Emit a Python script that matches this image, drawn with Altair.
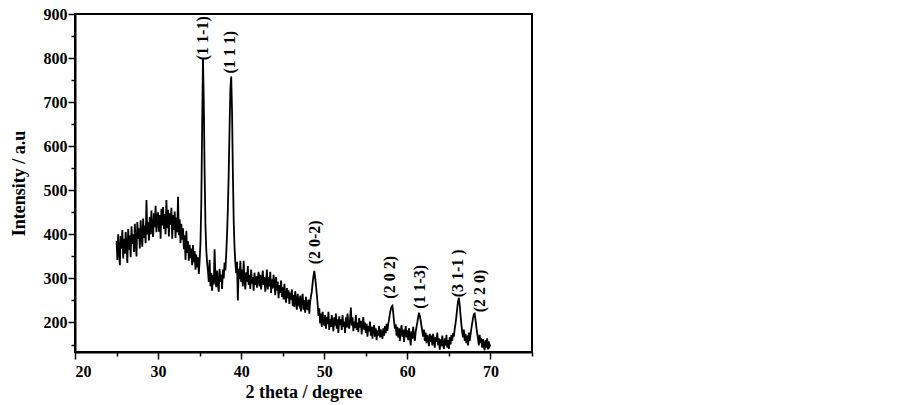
import altair as alt
import numpy as np
import pandas as pd

# 2-theta grid: 25.0 .. 70.0 step 0.1
x_start, x_step, n_pts = 25.0, 0.1, 451

intensity = [
    385, 342, 400, 362, 330, 396, 368, 410, 345, 390,   # 25
    356, 405, 372, 335, 412, 365, 398, 348, 418, 378,   # 26
    400, 360, 424, 382, 350, 428, 390, 414, 368, 432,   # 27
    398, 372, 436, 392, 420, 380, 478, 400, 428, 386,   # 28
    440, 400, 454, 410, 394, 448, 416, 465, 405, 438,   # 29
    450, 406, 444, 390, 458, 420, 462, 412, 446, 400,   # 30
    478, 414, 456, 395, 448, 422, 460, 390, 444, 410,   # 31
    452, 392, 438, 405, 485, 398, 434, 380, 424, 388,   # 32
    414, 366, 398, 342, 408, 358, 384, 340, 376, 346,   # 33
    368, 330, 376, 336, 362, 320, 354, 325, 348, 310,   # 34
    340, 380, 470, 640, 800, 700, 540, 420, 365, 335,   # 35
    318, 292, 342, 282, 312, 272, 308, 286, 366, 298,   # 36
    280, 318, 288, 270, 322, 292, 308, 276, 320, 300,   # 37
    336, 318, 356, 400, 460, 540, 640, 730, 758, 680,   # 38
    540, 430, 370, 335, 312, 338, 250, 322, 298, 340,   # 39
    292, 320, 282, 340, 298, 275, 314, 292, 328, 285,   # 40
    308, 276, 320, 288, 303, 272, 313, 285, 305, 279,   # 41
    300, 315, 282, 308, 275, 298, 318, 285, 303, 270,   # 42
    294, 320, 275, 303, 282, 315, 267, 298, 277, 308,   # 43
    290, 262, 303, 272, 293, 255, 285, 267, 295, 258,   # 44
    280, 252, 288, 258, 245, 278, 255, 273, 242, 268,   # 45
    252, 275, 238, 263, 235, 271, 247, 229, 265, 242,   # 46
    238, 261, 225, 253, 265, 229, 251, 222, 258, 235,   # 47
    228, 252, 220, 246, 260, 270, 290, 305, 317, 302,   # 48
    284, 264, 242, 215, 232, 198, 220, 190, 224, 203,   # 49
    193, 217, 186, 212, 196, 224, 183, 207, 190, 217,   # 50
    198, 180, 212, 193, 220, 186, 207, 176, 214, 194,   # 51
    207, 183, 217, 190, 202, 176, 212, 188, 220, 196,   # 52
    186, 207, 234, 193, 212, 180, 202, 188, 217, 183,   # 53
    200, 178, 210, 188, 204, 173, 197, 212, 183, 200,   # 54
    176, 197, 168, 192, 180, 202, 170, 190, 163, 187,   # 55
    194, 168, 187, 160, 182, 170, 192, 166, 184, 173,   # 56
    163, 187, 170, 192, 176, 197, 181, 197, 207, 220,   # 57
    230, 236, 238, 222, 202, 186, 196, 170, 190, 166,   # 58
    187, 158, 180, 194, 168, 184, 156, 177, 192, 166,   # 59
    182, 160, 187, 168, 148, 180, 163, 190, 170, 158,   # 60
    178, 190, 200, 212, 222, 215, 205, 192, 180, 168,   # 61
    184, 158, 177, 153, 172, 163, 146, 174, 156, 170,   # 62
    148, 174, 158, 143, 167, 156, 177, 148, 164, 138,   # 63
    162, 146, 170, 150, 140, 164, 148, 172, 143, 160,   # 64
    140, 167, 150, 172, 158, 176, 168, 186, 198, 214,   # 65
    232, 248, 256, 240, 216, 196, 178, 166, 184, 158,   # 66
    174, 153, 170, 148, 177, 158, 172, 186, 198, 210,   # 67
    218, 220, 206, 190, 176, 164, 148, 172, 153, 164,   # 68
    143, 162, 148, 137, 160, 143, 164, 139, 157, 146,   # 69
    150,                                                # 70
]

peak_x = [35.4, 38.7, 48.9, 57.9, 61.55, 66.1, 68.7]
peak_y = [795, 765, 332, 254, 231, 257, 223]
peak_label = ["(1 1-1)", "(1 1 1)", "(2 0-2)", "(2 0 2)", "(1 1-3)", "(3 1-1 )", "(2 2 0)"]

x_major = [20, 30, 40, 50, 60, 70]
x_minor = [25, 35, 45, 55, 65, 75]
y_major = [200, 300, 400, 500, 600, 700, 800, 900]
y_minor = [150, 250, 350, 450, 550, 650, 750, 850]

theta = np.round(x_start + x_step * np.arange(n_pts), 2)
df = pd.DataFrame({"theta": theta, "intensity": intensity})
peaks = pd.DataFrame({"x": peak_x, "y": peak_y, "label": peak_label})

FONT = "Liberation Serif"

xscale = alt.Scale(domain=[20, 75], nice=False, zero=False)
yscale = alt.Scale(domain=[133, 900], nice=False, zero=False)

line = alt.Chart(df).mark_line(color="black", strokeWidth=1.8).encode(
    x=alt.X("theta:Q", scale=xscale,
            axis=alt.Axis(values=x_major, tickSize=7, grid=False, orient="bottom",
                          labelOverlap=False, labelPadding=4, titlePadding=4,
                          title="2 theta / degree")),
    y=alt.Y("intensity:Q", scale=yscale,
            axis=alt.Axis(values=y_major, tickSize=7, grid=False, orient="left",
                          labelOverlap=False, labelPadding=1, titlePadding=15,
                          title="Intensity / a.u")),
)

minor = alt.Chart(df).mark_line(opacity=0).encode(
    x=alt.X("theta:Q", scale=xscale,
            axis=alt.Axis(values=x_minor, tickSize=4, grid=False, orient="bottom",
                          labels=False, domain=False, title=None)),
    y=alt.Y("intensity:Q", scale=yscale,
            axis=alt.Axis(values=y_minor, tickSize=4, grid=False, orient="left",
                          labels=False, domain=False, title=None)),
)

labels = alt.Chart(peaks).mark_text(
    angle=270, align="left", baseline="middle",
    font=FONT, fontSize=16, fontWeight="bold", color="black",
).encode(
    x=alt.X("x:Q", scale=xscale, axis=None),
    y=alt.Y("y:Q", scale=yscale, axis=None),
    text="label:N",
)

chart = (
    alt.layer(line, minor, labels)
    .resolve_axis(x="independent", y="independent")
    .properties(
        width=457, height=338,
        autosize=alt.AutoSizeParams(type="none"),
        padding={"left": 67, "top": 6, "right": 10, "bottom": 55},
        background="white",
    )
    .configure_view(stroke="black", strokeWidth=2)
    .configure_axis(
        domainColor="black", domainWidth=2,
        tickColor="black", tickWidth=1.5,
        labelFont=FONT, labelFontSize=16, labelFontWeight="bold", labelColor="black",
        titleFont=FONT, titleFontSize=18, titleFontWeight="bold", titleColor="black",
    )
)

chart.save("out.html", embed_options={"renderer": "svg", "actions": False})
